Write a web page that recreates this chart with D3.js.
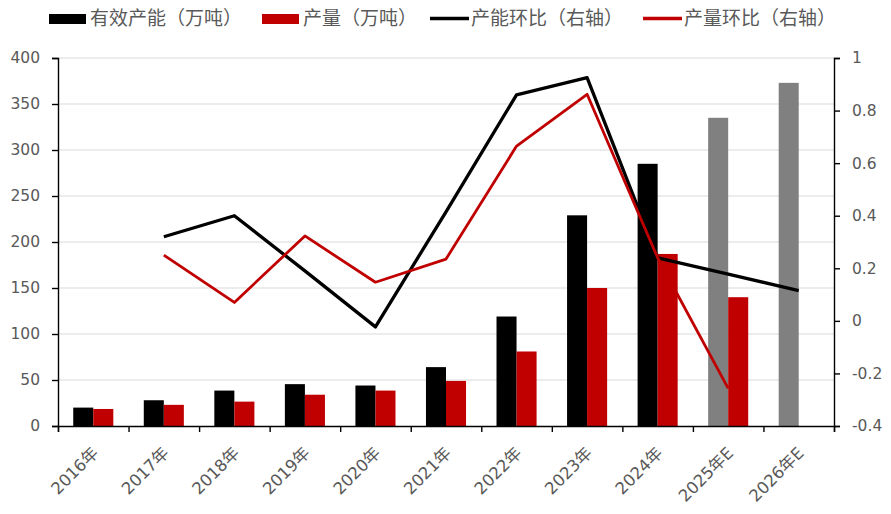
<!DOCTYPE html>
<html>
<head>
<meta charset="utf-8">
<script src="https://cdn.jsdelivr.net/npm/d3@7"></script>
<style>
  body { margin: 0; background: #fff; }
  text { fill: #595959; }
</style>
</head>
<body>
<div id="chart"></div>
<script>
// categories and values
const years = ["2016年", "2017年", "2018年", "2019年", "2020年", "2021年", "2022年", "2023年", "2024年", "2025年E", "2026年E"];
const capacity = [20, 28, 38.5, 45.5, 44, 64, 119, 229, 285, 335, 373];
const production = [18.5, 23, 26.5, 34, 38.5, 49, 81, 150, 187, 140, null];
const capacityRatio = [null, 0.32, 0.40, 0.19, -0.023, 0.415, 0.86, 0.925, 0.24, 0.178, 0.115];
const productionRatio = [null, 0.25, 0.07, 0.323, 0.147, 0.235, 0.665, 0.862, 0.24, -0.257, null];
const forecast = [false, false, false, false, false, false, false, false, false, true, true];

const leftTicks = [0, 50, 100, 150, 200, 250, 300, 350, 400];
const rightTicks = [-0.4, -0.2, 0, 0.2, 0.4, 0.6, 0.8, 1];
const legendItems = [
  {label: "有效产能（万吨）", type: "rect", color: "#000000"},
  {label: "产量（万吨）", type: "rect", color: "#C00000"},
  {label: "产能环比（右轴）", type: "line", color: "#000000"},
  {label: "产量环比（右轴）", type: "line", color: "#C00000"}
];

const W = 891, H = 514;
const margin = {top: 58, right: 57, bottom: 88, left: 58};
const width = W - margin.left - margin.right,
    height = H - margin.top - margin.bottom;

const svg = d3.select("#chart").append("svg")
    .attr("width", W)
    .attr("height", H);

const g = svg.append("g")
    .attr("transform", "translate(" + margin.left + "," + margin.top + ")");

// scales
const x = d3.scaleBand().domain(years).range([0, width]).padding(0);
const xEdge = d3.scaleLinear().domain([0, years.length]).range([0, width]);
const yL = d3.scaleLinear().domain([0, 400]).range([height, 0]);
const yR = d3.scaleLinear().domain([-0.4, 1]).range([height, 0]);
const barW = x.bandwidth() * 0.284;
const cx = (i) => x(years[i]) + x.bandwidth() / 2;

// gridlines
g.append("g").selectAll("line")
    .data(leftTicks.slice(1))
    .enter().append("line")
    .attr("x1", 0).attr("x2", width)
    .attr("y1", d => yL(d)).attr("y2", d => yL(d))
    .attr("stroke", "#d9d9d9").attr("stroke-width", 1.2);

// bars
const rows = years.map((y, i) => ({i: i, cap: capacity[i], prod: production[i], fc: forecast[i]}));

g.append("g").selectAll("rect")
    .data(rows)
    .enter().append("rect")
    .attr("x", d => cx(d.i) - barW)
    .attr("y", d => yL(d.cap))
    .attr("width", barW)
    .attr("height", d => height - yL(d.cap))
    .attr("fill", d => d.fc ? "#808080" : "#000000");

g.append("g").selectAll("rect")
    .data(rows.filter(d => d.prod !== null))
    .enter().append("rect")
    .attr("x", d => cx(d.i))
    .attr("y", d => yL(d.prod))
    .attr("width", barW)
    .attr("height", d => height - yL(d.prod))
    .attr("fill", "#C00000");

// ratio lines
const line = d3.line()
    .defined(d => d.v !== null)
    .x(d => cx(d.i))
    .y(d => yR(d.v));

g.append("path")
    .datum(capacityRatio.map((v, i) => ({i: i, v: v})))
    .attr("d", line)
    .attr("fill", "none")
    .attr("stroke", "#000000")
    .attr("stroke-width", 3.3)
    .attr("stroke-linejoin", "round");

g.append("path")
    .datum(productionRatio.map((v, i) => ({i: i, v: v})))
    .attr("d", line)
    .attr("fill", "none")
    .attr("stroke", "#C00000")
    .attr("stroke-width", 2.8)
    .attr("stroke-linejoin", "round");

// axes
const tickFont = '"DejaVu Sans", "Noto Sans CJK SC", sans-serif';

const axL = g.append("g")
    .call(d3.axisLeft(yL).tickValues(leftTicks).tickSize(6).tickPadding(12));
const axR = g.append("g")
    .attr("transform", "translate(" + width + ",0)")
    .call(d3.axisRight(yR).tickValues(rightTicks).tickSize(6).tickPadding(12)
        .tickFormat(d => String(Math.round(d * 10) / 10)));
const axB = g.append("g")
    .attr("transform", "translate(0," + height + ")")
    .call(d3.axisBottom(xEdge).tickValues(d3.range(years.length + 1)).tickSize(6).tickFormat(""));

[axL, axR, axB].forEach(ax => {
    ax.select(".domain").attr("stroke", "#000").attr("stroke-width", 1.4);
    ax.selectAll(".tick line").attr("stroke", "#000").attr("stroke-width", 1.4);
    ax.selectAll("text").style("font-family", tickFont).style("font-size", "15.5px").attr("fill", "#595959");
});

// rotated category labels
g.append("g").selectAll("text")
    .data(years)
    .enter().append("text")
    .attr("transform", (d, i) => "translate(" + (cx(i) + 2) + "," + (height + 24) + ") rotate(-45)")
    .attr("text-anchor", "end")
    .attr("dy", "0.35em")
    .style("font-family", tickFont)
    .style("font-size", "16.5px")
    .text(d => d);

// legend
const legend = svg.append("g");
const legendX = [49, 262, 430, 643];
legendItems.forEach((item, k) => {
    const lg = legend.append("g").attr("transform", "translate(" + legendX[k] + ",0)");
    if (item.type === "rect") {
        lg.append("rect").attr("x", 0).attr("y", 14).attr("width", 37).attr("height", 10).attr("fill", item.color);
    } else {
        lg.append("line").attr("x1", 0).attr("x2", 39).attr("y1", 18.5).attr("y2", 18.5)
            .attr("stroke", item.color).attr("stroke-width", 3.3);
    }
    lg.append("text")
        .attr("x", 41)
        .attr("y", 25)
        .style("font-family", '"Noto Sans CJK SC", sans-serif')
        .style("font-size", "19px")
        .text(item.label);
});
</script>
</body>
</html>
